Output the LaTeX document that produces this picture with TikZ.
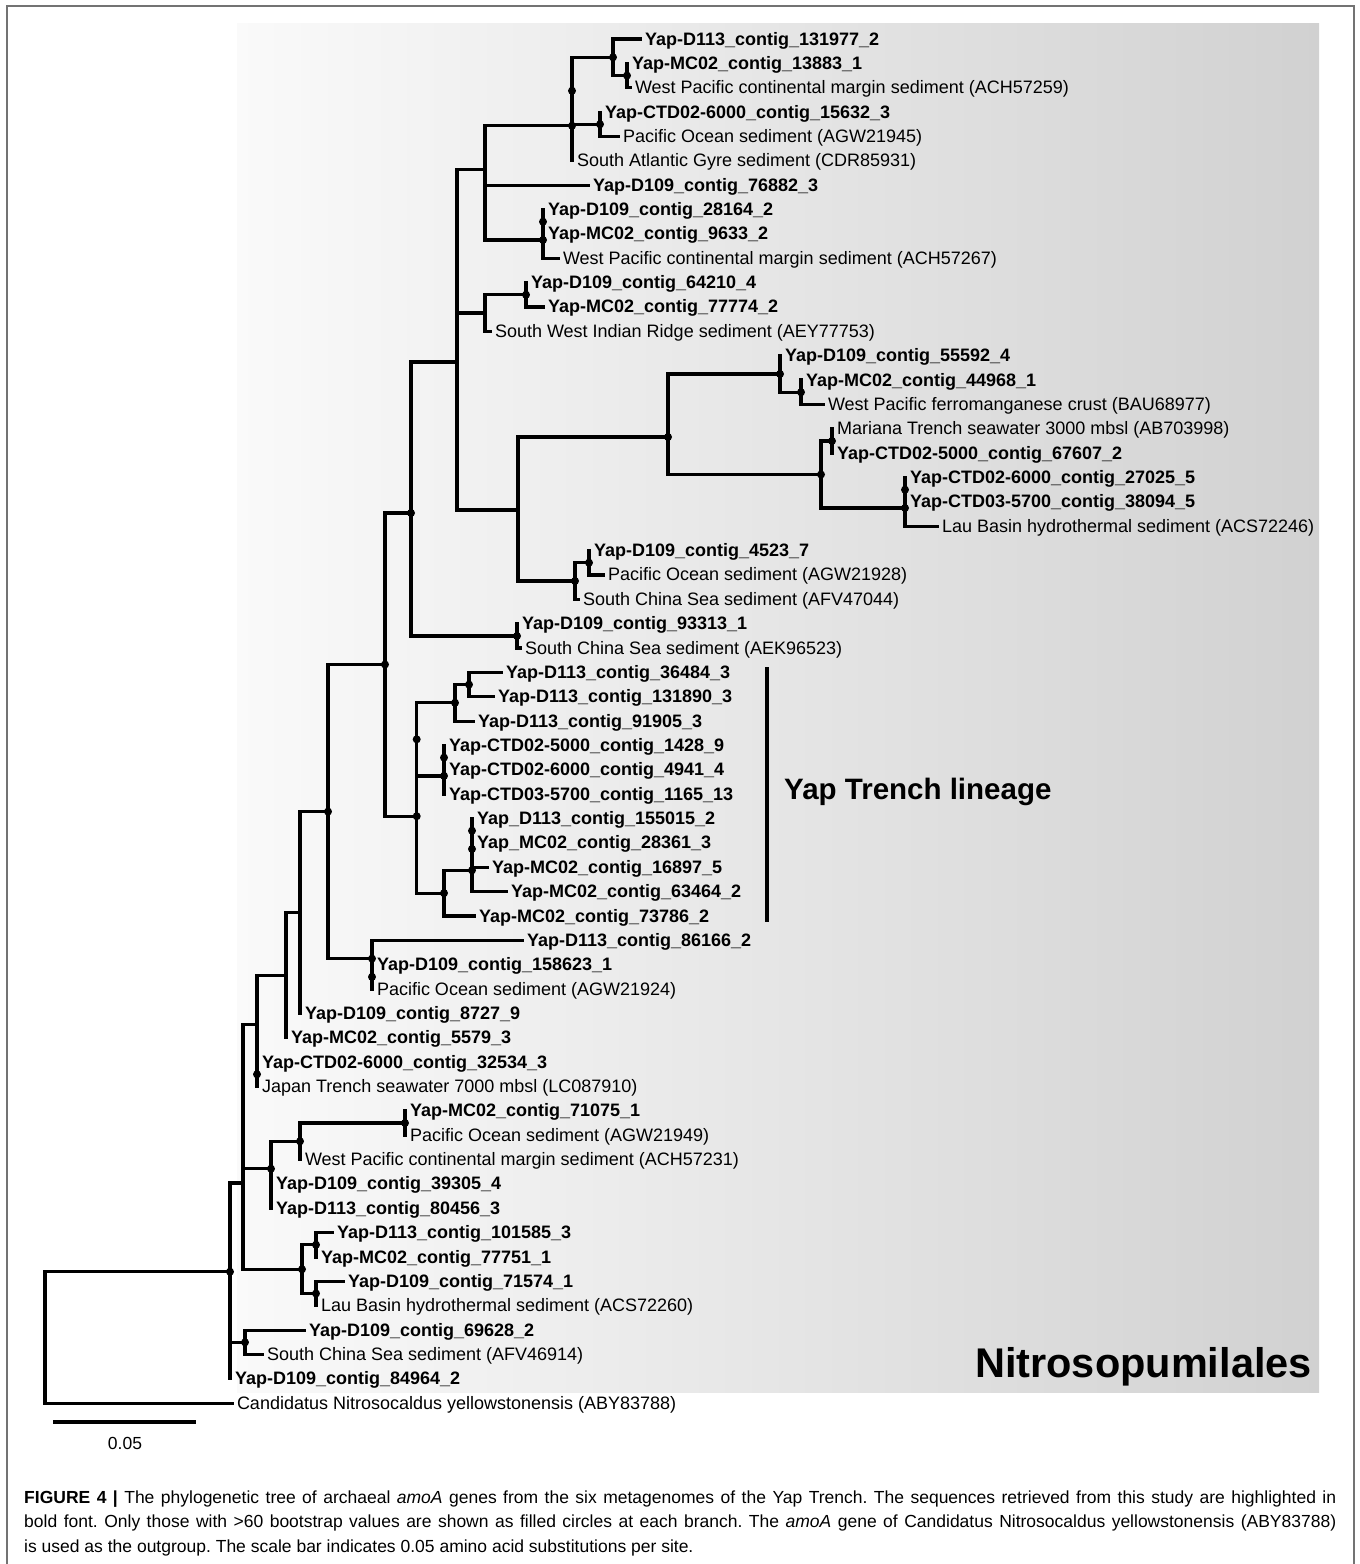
\documentclass[tikz,border=0pt]{standalone}
\usepackage{fontspec}
\setmainfont{Liberation Sans}
\frenchspacing

\tikzset{
  branch/.style={line width=3.2pt, line cap=rect},
  seq/.style={anchor=west, inner xsep=5pt, inner ysep=0pt, outer sep=0pt,
    text height=12pt, text depth=0pt, font=\fontsize{18}{20}\selectfont\bfseries},
  acc/.style={seq, font=\fontsize{18}{20}\selectfont},
  caption/.style={anchor=base west, inner sep=0pt, font=\fontsize{17.5}{24}\selectfont},
}

\begin{document}
\begin{tikzpicture}[x=1pt,y=-1pt]
    \useasboundingbox (0,0) rectangle (1360,1564);
    \fill[white] (0,0) rectangle (1360,1564);
    \draw[black!55,line width=1.5pt] (7,1570) |- (1354,6) -- (1354,1570);
    \shade[left color=black!2,right color=black!18] (237,23) rectangle (1319,1392);

    % inner nodes of the tree
    \coordinate (n1) at (627,75.6);
    \coordinate (n2) at (613,57.3);
    \coordinate (n3) at (600,124.3);
    \coordinate (n4) at (572,90.8);
    \coordinate (n5) at (572,125.8);
    \coordinate (n6) at (543,221.7);
    \coordinate (n7) at (543,240);
    \coordinate (n8) at (485,212.6);
    \coordinate (n9) at (485,169.2);
    \coordinate (n10) at (526,294.8);
    \coordinate (n11) at (485,313);
    \coordinate (n12) at (801,392.2);
    \coordinate (n13) at (780,374);
    \coordinate (n14) at (832,441);
    \coordinate (n15) at (905,489.7);
    \coordinate (n16) at (905,508);
    \coordinate (n17) at (821,474.5);
    \coordinate (n18) at (668,437);
    \coordinate (n19) at (589,562.7);
    \coordinate (n20) at (575,581);
    \coordinate (n21) at (518,510);
    \coordinate (n22) at (457,362);
    \coordinate (n23) at (411,513);
    \coordinate (n24) at (517,636);
    \coordinate (n25) at (469,684.6);
    \coordinate (n26) at (455,702.8);
    \coordinate (n27) at (444,757.6);
    \coordinate (n28) at (444,775.9);
    \coordinate (n29) at (416.7,739.3);
    \coordinate (n30) at (472,830.7);
    \coordinate (n31) at (472,849);
    \coordinate (n32) at (472,870.3);
    \coordinate (n33) at (444,893.1);
    \coordinate (n34) at (416.7,816.2);
    \coordinate (n35) at (385,664.5);
    \coordinate (n36) at (372,976.9);
    \coordinate (n37) at (372,958.6);
    \coordinate (n38) at (328,811.6);
    \coordinate (n39) at (300,912.5);
    \coordinate (n40) at (286,975.1);
    \coordinate (n41) at (257,1074.3);
    \coordinate (n42) at (257,1024.7);
    \coordinate (n43) at (405,1123);
    \coordinate (n44) at (300,1141.3);
    \coordinate (n45) at (271,1196.1);
    \coordinate (n46) at (271,1168.7);
    \coordinate (n47) at (316,1244.8);
    \coordinate (n48) at (316,1293.5);
    \coordinate (n49) at (302,1269.2);
    \coordinate (n50) at (243,1096.7);
    \coordinate (n51) at (243,1183);
    \coordinate (n52) at (245,1342.3);
    \coordinate (n53) at (230,1360.5);
    \coordinate (n54) at (230,1271.7);
    \coordinate (n55) at (45,1337.4);

    % leaves
    \node[seq] (t1) at (640,39) {Yap-D113\_contig\_131977\_2};
    \node[seq] (t2) at (627,63.4) {Yap-MC02\_contig\_13883\_1};
    \node[acc] (t3) at (630,87.7) {West Pacific continental margin sediment (ACH57259)};
    \node[seq] (t4) at (600,112.1) {Yap-CTD02-6000\_contig\_15632\_3};
    \node[acc] (t5) at (618,136.4) {Pacific Ocean sediment (AGW21945)};
    \node[acc] (t6) at (572,160.8) {South Atlantic Gyre sediment (CDR85931)};
    \node[seq] (t7) at (588,185.2) {Yap-D109\_contig\_76882\_3};
    \node[seq] (t8) at (543,209.5) {Yap-D109\_contig\_28164\_2};
    \node[seq] (t9) at (543,233.9) {Yap-MC02\_contig\_9633\_2};
    \node[acc] (t10) at (558,258.2) {West Pacific continental margin sediment (ACH57267)};
    \node[seq] (t11) at (526,282.6) {Yap-D109\_contig\_64210\_4};
    \node[seq] (t12) at (543,306.9) {Yap-MC02\_contig\_77774\_2};
    \node[acc] (t13) at (490,331.3) {South West Indian Ridge sediment (AEY77753)};
    \node[seq] (t14) at (780,355.7) {Yap-D109\_contig\_55592\_4};
    \node[seq] (t15) at (801,380) {Yap-MC02\_contig\_44968\_1};
    \node[acc] (t16) at (823,404.4) {West Pacific ferromanganese crust (BAU68977)};
    \node[acc] (t17) at (832,428.8) {Mariana Trench seawater 3000 mbsl (AB703998)};
    \node[seq] (t18) at (832,453.1) {Yap-CTD02-5000\_contig\_67607\_2};
    \node[seq] (t19) at (905,477.5) {Yap-CTD02-6000\_contig\_27025\_5};
    \node[seq] (t20) at (905,501.8) {Yap-CTD03-5700\_contig\_38094\_5};
    \node[acc] (t21) at (937,526.2) {Lau Basin hydrothermal sediment (ACS72246)};
    \node[seq] (t22) at (589,550.6) {Yap-D109\_contig\_4523\_7};
    \node[acc] (t23) at (603,574.9) {Pacific Ocean sediment (AGW21928)};
    \node[acc] (t24) at (578,599.3) {South China Sea sediment (AFV47044)};
    \node[seq] (t25) at (517,623.6) {Yap-D109\_contig\_93313\_1};
    \node[acc] (t26) at (520,648) {South China Sea sediment (AEK96523)};
    \node[seq] (t27) at (501,672.4) {Yap-D113\_contig\_36484\_3};
    \node[seq] (t28) at (493,696.7) {Yap-D113\_contig\_131890\_3};
    \node[seq] (t29) at (473,721.1) {Yap-D113\_contig\_91905\_3};
    \node[seq] (t30) at (444,745.4) {Yap-CTD02-5000\_contig\_1428\_9};
    \node[seq] (t31) at (444,769.8) {Yap-CTD02-6000\_contig\_4941\_4};
    \node[seq] (t32) at (444,794.2) {Yap-CTD03-5700\_contig\_1165\_13};
    \node[seq] (t33) at (472,818.5) {Yap\_D113\_contig\_155015\_2};
    \node[seq] (t34) at (472,842.9) {Yap\_MC02\_contig\_28361\_3};
    \node[seq] (t35) at (487,867.2) {Yap-MC02\_contig\_16897\_5};
    \node[seq] (t36) at (506,891.6) {Yap-MC02\_contig\_63464\_2};
    \node[seq] (t37) at (474,916) {Yap-MC02\_contig\_73786\_2};
    \node[seq] (t38) at (522,940.3) {Yap-D113\_contig\_86166\_2};
    \node[seq] (t39) at (372,964.7) {Yap-D109\_contig\_158623\_1};
    \node[acc] (t40) at (372,989) {Pacific Ocean sediment (AGW21924)};
    \node[seq] (t41) at (300,1013.4) {Yap-D109\_contig\_8727\_9};
    \node[seq] (t42) at (286,1037.8) {Yap-MC02\_contig\_5579\_3};
    \node[seq] (t43) at (257,1062.1) {Yap-CTD02-6000\_contig\_32534\_3};
    \node[acc] (t44) at (257,1086.5) {Japan Trench seawater 7000 mbsl (LC087910)};
    \node[seq] (t45) at (405,1110.8) {Yap-MC02\_contig\_71075\_1};
    \node[acc] (t46) at (405,1135.2) {Pacific Ocean sediment (AGW21949)};
    \node[acc] (t47) at (300,1159.6) {West Pacific continental margin sediment (ACH57231)};
    \node[seq] (t48) at (271,1183.9) {Yap-D109\_contig\_39305\_4};
    \node[seq] (t49) at (271,1208.3) {Yap-D113\_contig\_80456\_3};
    \node[seq] (t50) at (332,1232.6) {Yap-D113\_contig\_101585\_3};
    \node[seq] (t51) at (316,1257) {Yap-MC02\_contig\_77751\_1};
    \node[seq] (t52) at (343,1281.4) {Yap-D109\_contig\_71574\_1};
    \node[acc] (t53) at (316,1305.7) {Lau Basin hydrothermal sediment (ACS72260)};
    \node[seq] (t54) at (304,1330.1) {Yap-D109\_contig\_69628\_2};
    \node[acc] (t55) at (262,1354.4) {South China Sea sediment (AFV46914)};
    \node[seq] (t56) at (230,1378.8) {Yap-D109\_contig\_84964\_2};
    \node[acc] (t57) at (232,1403.2) {Candidatus Nitrosocaldus yellowstonensis (ABY83788)};

    % branches
    \draw[branch] (n55) |- (n54) (n55) |- (t57.west)
        (n54) |- (n51) (n54) |- (n53)
        (n53) |- (n52) (n53) |- (t56.west)
        (n52) |- (t54.west) (n52) |- (t55.west)
        (n51) |- (n50) (n51) |- (n49)
        (n50) |- (n42) (n50) |- (n46)
        (n42) |- (n40) (n42) |- (n41)
        (n41) |- (t43.west) (n41) |- (t44.west)
        (n40) |- (n39) (n40) |- (t42.west)
        (n39) |- (n38) (n39) |- (t41.west)
        (n38) |- (n35) (n38) |- (n37)
        (n37) |- (t38.west) (n37) |- (n36)
        (n36) |- (t39.west) (n36) |- (t40.west)
        (n35) |- (n23) (n35) |- (n34)
        (n23) |- (n22) (n23) |- (n24)
        (n24) |- (t25.west) (n24) |- (t26.west);
    \draw[branch] (n22) |- (n9) (n22) |- (n11) (n22) |- (n21)
        (n9) |- (n5) (n9) |- (n8)
        (n5) |- (n4) (n5) |- (t6.west)
        (n4) |- (n2) (n4) |- (n3)
        (n2) |- (t1.west) (n2) |- (n1)
        (n1) |- (t2.west) (n1) |- (t3.west)
        (n3) |- (t4.west) (n3) |- (t5.west)
        (n8) |- (t7.west) (n8) |- (n7)
        (n7) |- (n6) (n7) |- (t10.west)
        (n6) |- (t8.west) (n6) |- (t9.west)
        (n11) |- (n10) (n11) |- (t13.west)
        (n10) |- (t11.west) (n10) |- (t12.west)
        (n21) |- (n18) (n21) |- (n20)
        (n18) |- (n13) (n18) |- (n17)
        (n13) |- (t14.west) (n13) |- (n12)
        (n12) |- (t15.west) (n12) |- (t16.west)
        (n17) |- (n14) (n17) |- (n16)
        (n14) |- (t17.west) (n14) |- (t18.west)
        (n16) |- (n15) (n16) |- (t21.west)
        (n15) |- (t19.west) (n15) |- (t20.west)
        (n20) |- (n19) (n20) |- (t24.west)
        (n19) |- (t22.west) (n19) |- (t23.west);
    \draw[branch] (n34) |- (n29) (n34) |- (n33)
        (n29) |- (n26) (n29) |- (n28)
        (n26) |- (n25) (n26) |- (t29.west)
        (n25) |- (t27.west) (n25) |- (t28.west)
        (n28) |- (n27) (n28) |- (t32.west)
        (n27) |- (t30.west) (n27) |- (t31.west)
        (n33) |- (n32) (n33) |- (t37.west)
        (n32) |- (n31) (n32) |- (t36.west)
        (n31) |- (n30) (n31) |- (t35.west)
        (n30) |- (t33.west) (n30) |- (t34.west);
    \draw[branch] (n46) |- (n44) (n46) |- (n45)
        (n44) |- (n43) (n44) |- (t47.west)
        (n43) |- (t45.west) (n43) |- (t46.west)
        (n45) |- (t48.west) (n45) |- (t49.west)
        (n49) |- (n47) (n49) |- (n48)
        (n47) |- (t50.west) (n47) |- (t51.west)
        (n48) |- (t52.west) (n48) |- (t53.west);

    % bootstrap > 60
    \foreach \b in {n1,n2,n3,n4,n5,n6,n7,n10,n12,n13,n14,n15,n16,n17,n18,n19,n20,
        n23,n24,n25,n26,n27,n28,n29,n30,n31,n32,n33,n34,n35,n36,n37,n38,
        n41,n43,n44,n46,n47,n48,n49,n52,n54}
        \fill (\b) circle (4pt);

    \coordinate (ytTop) at (767,667);
    \coordinate (ytBot) at (767,922);
    \draw[line width=3.2pt] (ytTop) -- (ytBot);
    \node[anchor=base west,inner sep=0pt,font=\fontsize{29.5}{32}\selectfont\bfseries] (yt) at (784,799) {Yap Trench lineage};
    \node[anchor=base east,inner sep=0pt,font=\fontsize{41.5}{44}\selectfont\bfseries] (order) at (1312,1377) {Nitrosopumilales};

    \coordinate (sbL) at (53,1422);
    \coordinate (sbR) at (196,1422);
    \draw[line width=3.2pt] (sbL) -- (sbR);
    \node[anchor=base,inner sep=0pt,font=\fontsize{17.5}{20}\selectfont] (sb) at (125,1449) {0.05};

    \node[caption] (cap1) at (24,1503) {\makebox[1312pt][s]{\textbf{FIGURE 4 |} The phylogenetic tree of archaeal \textit{amoA} genes from the six metagenomes of the Yap Trench. The sequences retrieved from this study are highlighted in}};
    \node[caption] (cap2) at (24,1527.5) {\makebox[1312pt][s]{bold font. Only those with >60 bootstrap values are shown as filled circles at each branch. The \textit{amoA} gene of Candidatus Nitrosocaldus yellowstonensis (ABY83788)}};
    \node[caption] (cap3) at (24,1552) {is used as the outgroup. The scale bar indicates 0.05 amino acid substitutions per site.};
\end{tikzpicture}
\end{document}
